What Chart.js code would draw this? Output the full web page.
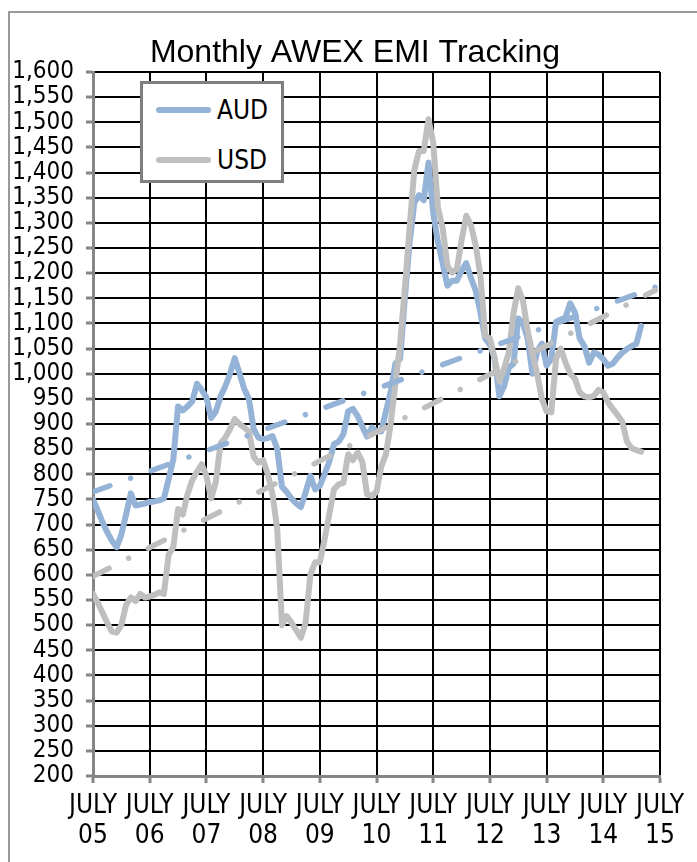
<!DOCTYPE html>
<html>
<head>
<meta charset="utf-8">
<script src="https://cdn.jsdelivr.net/npm/chart.js@4/dist/chart.umd.min.js"></script>
<style>
html,body{margin:0;padding:0;background:#fff;}
#wrap{position:relative;width:697px;height:862px;overflow:hidden;background:#fff;}
#frame{position:absolute;left:8px;top:11px;width:800px;height:900px;border-left:2px solid #9a9a9a;border-top:2px solid #9a9a9a;}
#c{position:absolute;left:0;top:0;}
#legend{position:absolute;left:140px;top:81px;width:138px;height:96px;border:3px solid #7f7f7f;background:#fff;
  font-family:'Liberation Sans Narrow','DejaVu Sans Condensed','Liberation Sans',sans-serif;font-size:26px;color:#000;}
.item{position:absolute;left:13px;height:30px;line-height:30px;white-space:nowrap;}
.sw{position:absolute;left:0;top:12px;width:55px;height:6px;border-radius:3px;}
.lb{position:absolute;left:61px;top:0;}
</style>
</head>
<body>
<div id="wrap">
  <div id="frame"></div>
  <canvas id="c" width="697" height="862"></canvas>
  <div id="legend"></div>
</div>
<script>
const titleText = 'Monthly AWEX EMI Tracking';
const monthWord = 'JULY';
const yearLabels = ['05','06','07','08','09','10','11','12','13','14','15'];
const seriesNames = ['AUD', 'USD'];
// monthly values from July 2005 (index 0) onward
const audValues = [
  750, 728, 705, 685, 668, 655, 680, 720, 762, 738, 740, 742,
  745, 746, 748, 752, 790, 830, 935, 927, 935, 945, 980, 968,
  953, 912, 925, 955, 975, 1000, 1031, 1001, 970, 950, 890, 873,
  870, 872, 876, 850, 775, 765, 752, 742, 735, 764, 797, 770,
  777, 800, 825, 860, 865, 880, 925, 930, 916, 895, 875, 893,
  886, 885, 925, 965, 1020, 1030, 1150, 1260, 1340, 1355, 1345, 1420,
  1320, 1262, 1220, 1175, 1185, 1185, 1205, 1220, 1190, 1165, 1122, 1070,
  1058, 1030, 955, 975, 1012, 1020, 1110, 1100, 1070, 1000, 1045, 1060,
  1016, 1030, 1103, 1108, 1112, 1140, 1122, 1070, 1055, 1022, 1042, 1038,
  1029, 1016, 1020, 1032, 1042, 1049, 1055, 1060, 1095
];
const usdValues = [
  562, 545, 525, 505, 487, 485, 500, 540, 555, 548, 562, 555,
  557, 560, 565, 562, 640, 655, 731, 720, 760, 788, 805, 820,
  797, 752, 785, 862, 873, 890, 910, 900, 893, 885, 835, 823,
  828, 800, 760, 690, 500, 518, 505, 490, 475, 505, 600, 625,
  625, 670, 720, 770, 780, 783, 840, 828, 843, 825, 760, 757,
  765, 815, 840, 900, 980, 1060, 1170, 1290, 1405, 1443, 1443, 1506,
  1460, 1330, 1290, 1215, 1201, 1208, 1265, 1314, 1295, 1255, 1195, 1075,
  1070, 1030, 985, 1010, 1042, 1120, 1170, 1145, 1085, 1040, 1000, 950,
  925, 923, 1030, 1050, 1022, 1000, 990, 963, 955, 953, 956, 968,
  963, 943, 930, 918, 905, 865, 852, 848, 845
];
// linear trend lines: values at the first and last month of trendMonths
const trendMonths = [0, 119];
const audTrend = [765, 1172];
const usdTrend = [597, 1166];

const yMin = 200, yMax = 1600, yStep = 50;
const AUD_COLOR = '#95B3D7';
const USD_COLOR = '#BFBFBF';
const AXIS_GRAY = '#868686';
const FONT_FAMILY = "'Liberation Sans Narrow','DejaVu Sans Condensed','Liberation Sans',sans-serif";

const toPoints = arr => arr.map((v, i) => ({x: i, y: v}));
const toTrend = arr => arr.map((v, i) => ({x: trendMonths[i], y: v}));

const lineBase = {pointRadius: 0, pointHoverRadius: 0, tension: 0, fill: false,
  borderJoinStyle: 'round', borderCapStyle: 'round'};

const titlePlugin = {
  id: 'drawTitle',
  afterDraw(chart) {
    const ctx = chart.ctx;
    ctx.save();
    ctx.font = "32px 'Liberation Sans', Arial, sans-serif";
    ctx.fillStyle = '#000';
    ctx.textAlign = 'center';
    ctx.textBaseline = 'alphabetic';
    ctx.fillText(titleText, 355, 62);
    ctx.restore();
  }
};

const chart = new Chart(document.getElementById('c'), {
  type: 'line',
  data: {
    datasets: [
      Object.assign({}, lineBase, {label: seriesNames[0], data: toPoints(audValues), borderColor: AUD_COLOR, borderWidth: 6, order: 4}),
      Object.assign({}, lineBase, {label: seriesNames[1], data: toPoints(usdValues), borderColor: USD_COLOR, borderWidth: 6, order: 3}),
      Object.assign({}, lineBase, {label: seriesNames[0] + ' trend', data: toTrend(audTrend), borderColor: AUD_COLOR, borderWidth: 5.5, borderDash: [18, 22, 0.01, 22], order: 2}),
      Object.assign({}, lineBase, {label: seriesNames[1] + ' trend', data: toTrend(usdTrend), borderColor: USD_COLOR, borderWidth: 5.5, borderDash: [18, 22, 0.01, 22], order: 1})
    ]
  },
  options: {
    responsive: false,
    animation: false,
    devicePixelRatio: 1,
    events: [],
    layout: {padding: {top: 72, right: 37, left: 0, bottom: 0}},
    plugins: {legend: {display: false}, tooltip: {enabled: false}, title: {display: false}},
    scales: {
      x: {
        type: 'linear', min: 0, max: (yearLabels.length - 1) * 12,
        afterBuildTicks: s => { s.ticks = yearLabels.map((_, i) => ({value: i * 12})); },
        afterFit: s => { s.height = 86; },
        ticks: {
          autoSkip: false, maxRotation: 0, minRotation: 0, padding: 8, color: '#000',
          font: {family: FONT_FAMILY, size: 26, lineHeight: 1.15},
          callback: v => [monthWord, yearLabels[Math.round(v / 12)]]
        },
        grid: {color: '#000', lineWidth: 2, tickColor: AXIS_GRAY, tickLength: 7, tickWidth: 3},
        border: {color: AXIS_GRAY, width: 3}
      },
      y: {
        min: yMin, max: yMax,
        afterFit: s => { s.width = 93; },
        ticks: {
          stepSize: yStep, autoSkip: false, padding: 12, color: '#000',
          font: {family: FONT_FAMILY, size: 24},
          callback: v => Number(v).toLocaleString('en-US')
        },
        grid: {color: '#000', lineWidth: 2, tickColor: AXIS_GRAY, tickLength: 7, tickWidth: 3},
        border: {color: AXIS_GRAY, width: 3}
      }
    }
  },
  plugins: [titlePlugin]
});

// HTML legend built from the datasets
const legend = document.getElementById('legend');
chart.data.datasets.slice(0, 2).forEach((ds, i) => {
  const item = document.createElement('div');
  item.className = 'item';
  item.style.top = (i === 0 ? 11 : 61) + 'px';
  const sw = document.createElement('div');
  sw.className = 'sw';
  sw.style.background = ds.borderColor;
  const lb = document.createElement('div');
  lb.className = 'lb';
  lb.textContent = ds.label;
  item.appendChild(sw); item.appendChild(lb);
  legend.appendChild(item);
});
</script>
</body>
</html>
